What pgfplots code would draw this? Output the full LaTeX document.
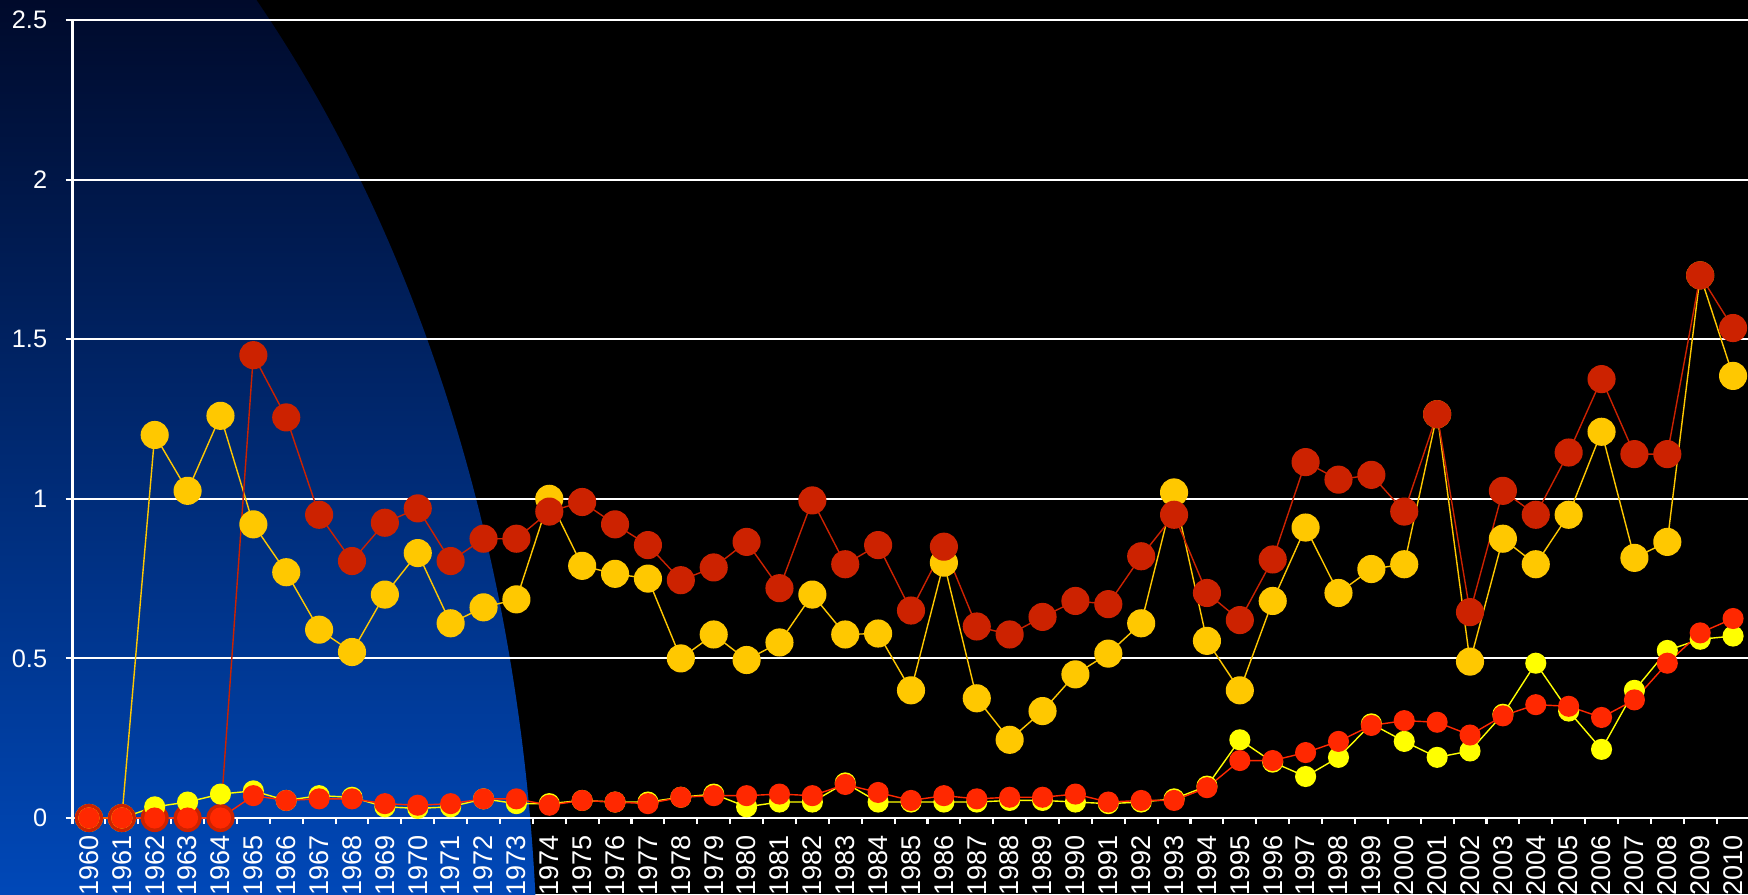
\documentclass[border=0pt]{standalone}
\usepackage{pgfplots}
\pgfplotsset{compat=1.18}
\usepackage{pgfplotstable}
\usepackage{fontspec}
\setmainfont{Liberation Sans}
\definecolor{gold}{RGB}{255,200,0}
\definecolor{dred}{RGB}{204,34,0}
\definecolor{yel}{RGB}{255,255,0}
\definecolor{rd}{RGB}{255,40,0}
\definecolor{navytop}{RGB}{0,10,43}
\definecolor{bluebot}{RGB}{0,72,184}

\pgfplotstableread{
year A B C D
1960 0 0 0 0
1961 0 0 0 0
1962 1.20 0 0.035 0
1963 1.025 0 0.05 0
1964 1.26 0 0.075 0
1965 0.92 1.45 0.085 0.07
1966 0.77 1.255 0.055 0.055
1967 0.59 0.95 0.07 0.06
1968 0.52 0.805 0.065 0.06
1969 0.70 0.925 0.035 0.045
1970 0.83 0.97 0.03 0.04
1971 0.61 0.805 0.035 0.045
1972 0.66 0.875 0.06 0.06
1973 0.685 0.875 0.045 0.06
1974 1.00 0.96 0.045 0.04
1975 0.79 0.99 0.055 0.055
1976 0.765 0.92 0.05 0.05
1977 0.75 0.855 0.05 0.045
1978 0.50 0.745 0.065 0.065
1979 0.575 0.785 0.075 0.07
1980 0.495 0.865 0.035 0.07
1981 0.55 0.72 0.05 0.075
1982 0.70 0.995 0.05 0.07
1983 0.575 0.795 0.11 0.105
1984 0.578 0.855 0.05 0.08
1985 0.40 0.65 0.05 0.055
1986 0.80 0.85 0.05 0.07
1987 0.375 0.60 0.05 0.06
1988 0.245 0.575 0.055 0.065
1989 0.335 0.63 0.055 0.065
1990 0.45 0.68 0.05 0.075
1991 0.515 0.67 0.045 0.05
1992 0.61 0.82 0.05 0.055
1993 1.02 0.95 0.06 0.055
1994 0.555 0.705 0.10 0.095
1995 0.40 0.62 0.245 0.18
1996 0.68 0.81 0.175 0.18
1997 0.91 1.115 0.13 0.205
1998 0.705 1.06 0.19 0.24
1999 0.78 1.075 0.295 0.29
2000 0.795 0.96 0.24 0.305
2001 1.265 1.265 0.19 0.30
2002 0.49 0.645 0.21 0.26
2003 0.875 1.025 0.325 0.32
2004 0.795 0.95 0.485 0.355
2005 0.95 1.145 0.335 0.35
2006 1.21 1.375 0.215 0.315
2007 0.815 1.14 0.40 0.37
2008 0.865 1.14 0.525 0.485
2009 1.70 1.70 0.56 0.58
2010 1.385 1.535 0.57 0.625
}\data

\begin{document}
\begin{tikzpicture}
\useasboundingbox (0,0) rectangle (17.48,8.94);
\clip (0,0) rectangle (17.48,8.94);
\fill[black] (0,0) rectangle (17.48,8.94);
\begin{scope}
\clip (-4.0,-1.06) ellipse [x radius=9.38cm, y radius=14cm];
\shade[top color=navytop, bottom color=bluebot] (0,0) rectangle (6,8.94);
\end{scope}
\begin{axis}[
  at={(0.725cm,0.76cm)}, anchor=south west,
  scale only axis, width=16.77cm, height=7.98cm,
  xmin=1959.5, xmax=2010.5, ymin=0, ymax=2.5,
  axis x line=bottom, axis y line=left,
  axis line style={white, line width=0.6pt, -},
  ymajorgrids, grid style={white, line width=0.6pt},
  ytick={0,0.5,1,1.5,2,2.5},
  xtick={1960,1961,...,2010},
  minor xtick={1959.5,1960.5,...,2010.5},
  tick align=outside,
  major tick length=0.07cm, minor tick length=0.06cm,
  major x tick style={draw=none},
  every tick/.style={white, line width=0.6pt},
  minor x tick style={white, line width=0.6pt},
  major y tick style={white, line width=0.6pt},
  /pgf/number format/1000 sep={},
  /pgf/number format/assume math mode=true,
  tick label style={font=\fontsize{7.2}{8.6}\selectfont, text=white},
  xticklabel style={rotate=90, anchor=east, font=\fontsize{7.7}{9}\selectfont, xshift=0.02cm},
  yticklabel style={xshift=-0.06cm},
  clip=false,
]
\addplot[gold, line width=0.4pt, mark=*, mark size=3.8pt, mark options={fill=gold, draw=gold}] table[x=year, y=A] {\data};
\addplot[dred, line width=0.4pt, mark=*, mark size=3.8pt, mark options={fill=dred, draw=dred}] table[x=year, y=B] {\data};
\addplot[yel, line width=0.4pt, mark=*, mark size=2.8pt, mark options={fill=yel, draw=yel}] table[x=year, y=C] {\data};
\addplot[rd, line width=0.4pt, mark=*, mark size=2.8pt, mark options={fill=rd, draw=rd}] table[x=year, y=D] {\data};
\end{axis}
\end{tikzpicture}
\end{document}
